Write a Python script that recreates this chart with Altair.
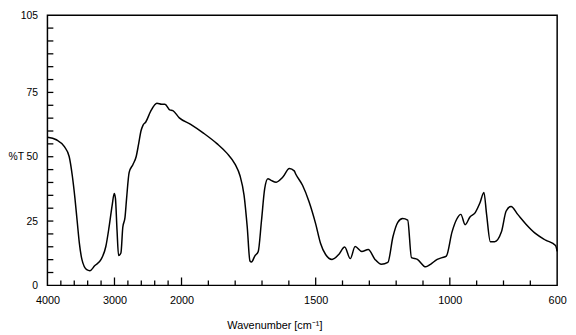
import altair as alt
import pandas as pd

# Spectrum
wavenumber = [4000, 3867, 3747, 3676, 3629, 3590, 3557, 3524, 3486, 3414, 3367, 3296,
              3200, 3129, 3081, 3033, 3004, 2986, 2962, 2939, 2904, 2876, 2843, 2819,
              2781, 2724, 2676, 2639, 2604, 2575, 2533, 2461, 2367, 2296, 2247, 2176,
              2129, 2033, 1966, 1917, 1868, 1831, 1800, 1782, 1767, 1755, 1745, 1739,
              1727, 1714, 1702, 1690, 1678, 1666, 1647, 1623, 1598, 1580, 1574, 1549,
              1525, 1500, 1482, 1463, 1439, 1414, 1392, 1371, 1353, 1328, 1304, 1279,
              1255, 1231, 1212, 1194, 1176, 1157, 1143, 1121, 1090, 1072, 1047, 1029,
              1013, 992, 974, 959, 943, 925, 906, 888, 873, 863, 849, 833, 808, 790,
              772, 747, 717, 680, 643, 606, 600]
transmittance = [57.6, 56.6, 53.9, 50.1, 42.6, 33.9, 25.1, 16.4, 10.1, 6.1, 5.7, 7.6,
                 10.1, 15.1, 22.6, 31.4, 35.7, 33.9, 21.4, 11.6, 12.6, 22.6, 26.4, 33.9,
                 43.9, 47.0, 50.1, 55.1, 60.1, 62.2, 63.5, 67.6, 70.8, 70.4, 70.4, 68.2,
                 67.9, 65.1, 62.6, 59.1, 55.1, 51.4, 47.0, 42.6, 35.1, 22.6, 9.5, 9.1,
                 11.4, 13.2, 25.1, 37.6, 41.4, 40.8, 40.1, 42.0, 45.4, 44.5, 43.2, 38.9,
                 32.6, 23.9, 16.4, 12.0, 10.1, 12.0, 14.9, 10.4, 15.1, 13.2, 13.9, 10.1,
                 8.2, 8.9, 18.9, 24.5, 26.0, 25.4, 10.8, 10.1, 7.2, 8.2, 10.1, 10.8,
                 11.4, 20.7, 25.8, 27.6, 23.6, 26.6, 28.2, 32.0, 36.1, 27.6, 17.0, 17.0,
                 20.7, 28.9, 30.7, 27.6, 23.9, 20.1, 17.6, 15.5, 13.2]

x_labels = [4000, 3000, 2000, 1500, 1000, 600]
y_labels = [0, 25, 50, 75, 105]
x_major_ticks = [3000, 2000, 1500, 1000]
x_minor_ticks = [3800, 3600, 3400, 3200, 2800, 2600, 2400, 2200,
                 1900, 1800, 1700, 1600, 1400, 1300, 1200, 1100, 900, 800, 700]
y_ticks = [5, 10, 15, 20, 25, 30, 35, 40, 45, 50, 55, 60, 65, 70, 75, 80, 85, 90, 95, 100]

W = 517
H = 274
FONT = "Liberation Sans"

spec = pd.DataFrame({"wn": wavenumber, "t": transmittance})
xt_major = pd.DataFrame({"wn": x_major_ticks})
xt_minor = pd.DataFrame({"wn": x_minor_ticks})
yt = pd.DataFrame({"t": y_ticks})

xscale = alt.Scale(domain=[4000, 2000, 600], range=[0, 136, W], nice=False, zero=False)
yscale = alt.Scale(domain=[0, 105], nice=False, zero=False)

x_axis = alt.Axis(values=x_labels, format="d", title="Wavenumber [cm\u207b\u00b9]", domain=False,
                  ticks=False, grid=False, labelFontSize=11, labelPadding=9,
                  labelFont=FONT, labelColor="black", labelFlush=False,
                  titleFont=FONT, titleFontSize=11, titleFontWeight="normal",
                  titleColor="black", titleX=182, titleY=44, titleAlign="left",
                  titleAnchor="start", titleBaseline="alphabetic")
y_axis = alt.Axis(values=y_labels, format="d", title="%T", domain=False, ticks=False, grid=False,
                  labelFontSize=10.5, labelPadding=10, labelFont=FONT,
                  labelColor="black", labelFlush=False,
                  titleFont=FONT, titleFontSize=10.5, titleFontWeight="normal",
                  titleColor="black", titleAngle=0, titleX=-40, titleY=143,
                  titleAlign="left", titleBaseline="middle")

line = alt.Chart(spec).mark_line(color="black", strokeWidth=1.5, interpolate="monotone").encode(
    x=alt.X("wn:Q", scale=xscale, axis=x_axis),
    y=alt.Y("t:Q", scale=yscale, axis=y_axis),
)

major = alt.Chart(xt_major).mark_rule(color="black", strokeWidth=1.3).encode(
    x=alt.X("wn:Q", scale=xscale, axis=x_axis),
    y=alt.value(H), y2=alt.value(H - 8),
)
minor = alt.Chart(xt_minor).mark_rule(color="black", strokeWidth=1.3).encode(
    x=alt.X("wn:Q", scale=xscale, axis=x_axis),
    y=alt.value(H), y2=alt.value(H - 5),
)
yticks = alt.Chart(yt).mark_rule(color="black", strokeWidth=1.3).encode(
    y=alt.Y("t:Q", scale=yscale, axis=y_axis),
    x=alt.value(0), x2=alt.value(6),
)

chart = alt.layer(line, major, minor, yticks).properties(
    width=W, height=H,
    autosize="none",
    padding={"left": 40, "top": 5, "right": 11, "bottom": 48},
).configure(
    background="white",
    view=alt.ViewConfig(stroke="black", strokeWidth=1.5),
)

chart.save("out.html", embed_options={"renderer": "svg", "actions": False})
